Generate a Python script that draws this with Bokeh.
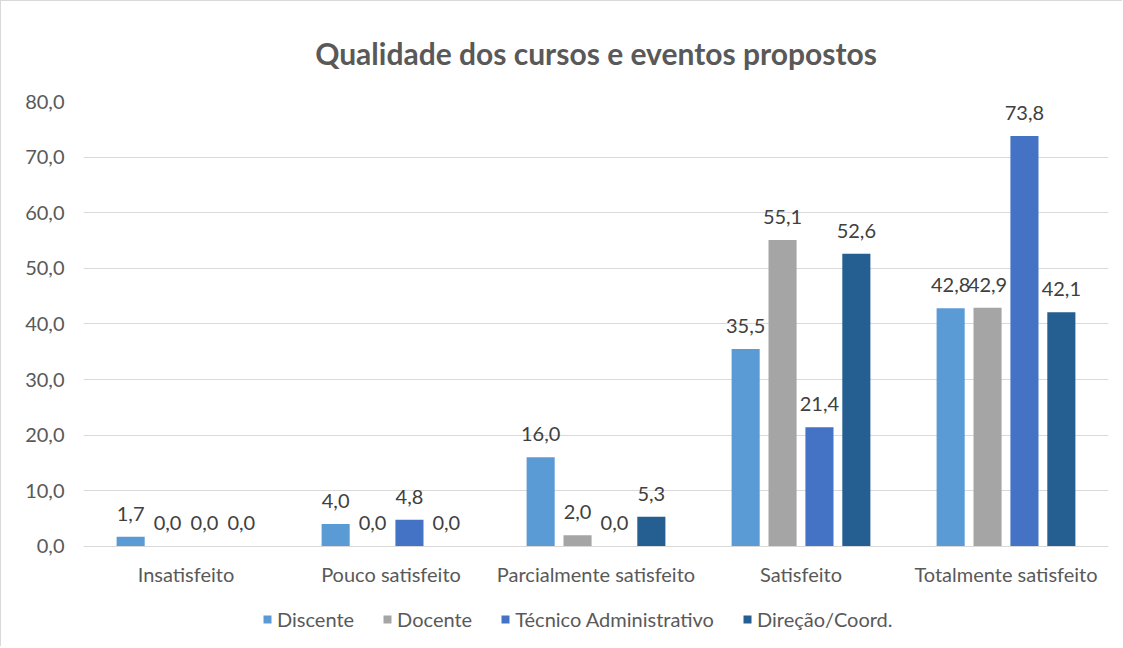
from bokeh.plotting import figure
from bokeh.models import ColumnDataSource, FactorRange, Legend, LegendItem, CustomJSTickFormatter, LabelSet, FixedTicker, Range1d
from bokeh.transform import dodge
from bokeh.core.properties import value
from bokeh.embed import file_html
from bokeh.resources import INLINE

categories = ["Insatisfeito", "Pouco satisfeito", "Parcialmente satisfeito", "Satisfeito", "Totalmente satisfeito"]
series_names = ["Discente", "Docente", "Técnico Administrativo", "Direção/Coord."]
discente = [1.7, 4.0, 16.0, 35.5, 42.8]
docente = [0.0, 0.0, 2.0, 55.1, 42.9]
tecnico = [0.0, 4.8, 0.0, 21.4, 73.8]
direcao = [0.0, 0.0, 5.3, 52.6, 42.1]
y_ticks = [0, 10, 20, 30, 40, 50, 60, 70, 80]
colors = ["#5B9BD5", "#A5A5A5", "#4472C4", "#255E91"]

FONT = "Lato"
TXT = "#595959"

# geometry (pixels): plot area top, zero line, extended bottom for legend room
TOP_PX, ZERO_PX, BOTTOM_PX = 100, 544, 641
y_start = -y_ticks[-1] * (BOTTOM_PX - ZERO_PX) / (ZERO_PX - TOP_PX)

p = figure(x_range=FactorRange(*categories, range_padding=0.0),
           y_range=Range1d(y_start, y_ticks[-1]),
           width=1122, height=646,
           output_backend="svg", toolbar_location=None,
           min_border_left=82, min_border_right=15, min_border_top=99, min_border_bottom=4)

p.title.text = "Qualidade dos cursos e eventos propostos"
p.title.align = "center"
p.title.text_font = FONT
p.title.text_font_size = "30px"
p.title.text_font_style = "bold"
p.title.text_color = TXT
p.title.standoff = 62

offsets = [-0.27, -0.09, 0.09, 0.27]
series_vals = [discente, docente, tecnico, direcao]
items = []
for name, vals, col, off in zip(series_names, series_vals, colors, offsets):
    src = ColumnDataSource(dict(cat=categories, val=vals,
                                lbl=[f"{v:.1f}".replace(".", ",") for v in vals]))
    r = p.vbar(x=dodge("cat", off, range=p.x_range), top="val", bottom=0, width=0.137,
               source=src, fill_color=col, line_color=None)
    labels = LabelSet(x=dodge("cat", off, range=p.x_range), y="val", text="lbl", source=src,
                      text_align="center", text_baseline="bottom", y_offset=16,
                      text_font=value(FONT), text_font_size="20px", text_color="#404040")
    p.add_layout(labels)
    items.append(LegendItem(label=name, renderers=[r]))

legend = Legend(items=items, orientation="horizontal", location=(179, 12),
                label_text_font=FONT, label_text_font_size="20px", label_text_color=TXT,
                glyph_width=10, glyph_height=10, spacing=28, label_standoff=5,
                border_line_color=None, background_fill_alpha=0, margin=0, padding=0)
p.add_layout(legend, "center")

p.yaxis.ticker = FixedTicker(ticks=y_ticks)
p.yaxis.formatter = CustomJSTickFormatter(code="return tick.toFixed(1).replace('.', ',');")
p.yaxis.axis_line_color = None
p.yaxis.major_tick_line_color = None
p.yaxis.minor_tick_line_color = None
p.yaxis.major_label_text_font = FONT
p.yaxis.major_label_text_font_size = "20px"
p.yaxis.major_label_text_color = TXT
p.yaxis.major_label_standoff = 13

p.xaxis.fixed_location = 0
p.xaxis.axis_line_color = "#d9d9d9"
p.xaxis.major_tick_line_color = None
p.xaxis.minor_tick_line_color = None
p.xaxis.major_label_text_font = FONT
p.xaxis.major_label_text_font_size = "20px"
p.xaxis.major_label_text_color = TXT
p.xaxis.major_label_standoff = 10

p.xgrid.grid_line_color = None
p.ygrid.grid_line_color = "#d9d9d9"
p.outline_line_color = None
p.styles = {"border-left": "1px solid #d9d9d9", "border-top": "1px solid #d9d9d9"}

open("out.html", "w").write(file_html(p, INLINE))
